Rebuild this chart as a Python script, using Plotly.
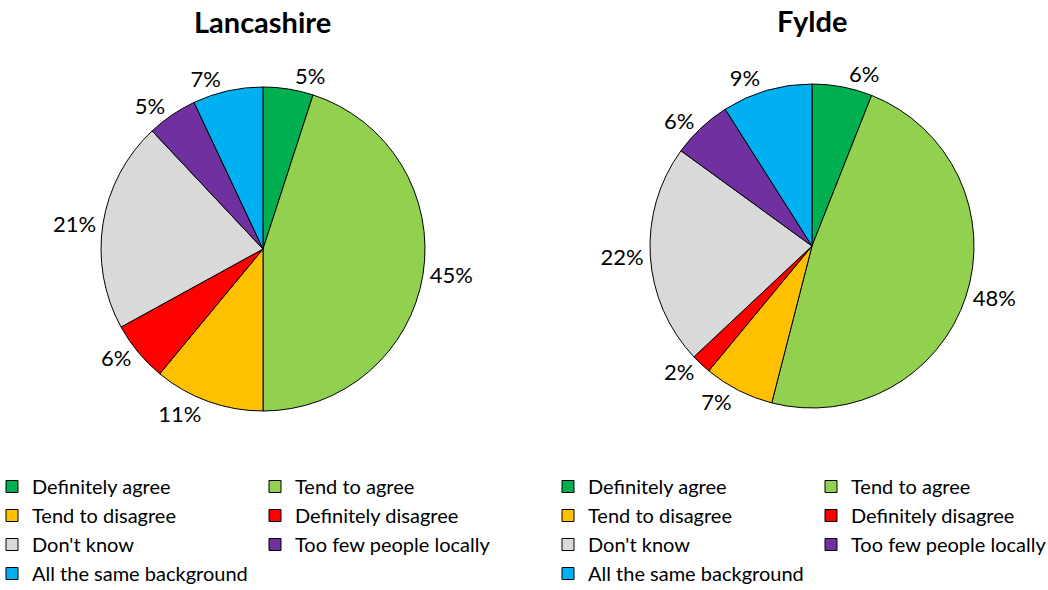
import plotly.graph_objects as go

categories = ["Definitely agree", "Tend to agree", "Tend to disagree", "Definitely disagree",
              "Don't know", "Too few people locally", "All the same background"]
lancashire = [5, 45, 11, 6, 21, 5, 7]
fylde = [6, 48, 7, 2, 22, 6, 9]
titles = ["Lancashire", "Fylde"]
colors = ["#00B050", "#92D050", "#FFC000", "#FF0000", "#D9D9D9", "#7030A0", "#00B0F0"]

FONT = "Lato"
W, H = 1048, 590


def fx(px):
    return px / W


def fy(py):
    return 1 - py / H


def pie(values, domain_x, domain_y, legend, group):
    return go.Pie(
        labels=categories, values=values, sort=False, direction="clockwise", rotation=0,
        marker=dict(colors=colors, line=dict(color="black", width=1)),
        texttemplate="%{value}%", textposition="outside",
        textfont=dict(family=FONT, size=22, color="black"),
        domain=dict(x=domain_x, y=domain_y), legend=legend, legendgroup=group,
        hoverinfo="label+value", automargin=False,
    )


fig = go.Figure()
fig.add_trace(pie(lancashire, [fx(101), fx(425)], [fy(411), fy(87)], "legend", "a"))
fig.add_trace(pie(fylde, [fx(650), fx(974)], [fy(408), fy(84)], "legend2", "b"))

leg_common = dict(orientation="h", font=dict(family=FONT, size=20, color="black"),
                  yanchor="top", y=fy(467), bgcolor="rgba(0,0,0,0)", traceorder="normal",
                  entrywidth=218, entrywidthmode="pixels")
fig.update_layout(
    width=W, height=H,
    margin=dict(l=0, r=0, t=0, b=0, autoexpand=False),
    paper_bgcolor="white", plot_bgcolor="white",
    font=dict(family=FONT, color="black"),
    legend=dict(x=fx(-8), xanchor="left", **leg_common),
    legend2=dict(x=fx(1074), xanchor="right", **leg_common),
    annotations=[
        dict(text="<b>%s</b>" % titles[0], x=fx(262), y=fy(22), xref="paper", yref="paper",
             xanchor="center", yanchor="middle", showarrow=False,
             font=dict(family=FONT, size=29, color="black")),
        dict(text="<b>%s</b>" % titles[1], x=fx(812), y=fy(20), xref="paper", yref="paper",
             xanchor="center", yanchor="middle", showarrow=False,
             font=dict(family=FONT, size=29, color="black")),
    ],
)
fig.write_html("out.html", config={"displayModeBar": False},
               post_script="document.body.style.margin='0';document.body.style.overflow='hidden';")
